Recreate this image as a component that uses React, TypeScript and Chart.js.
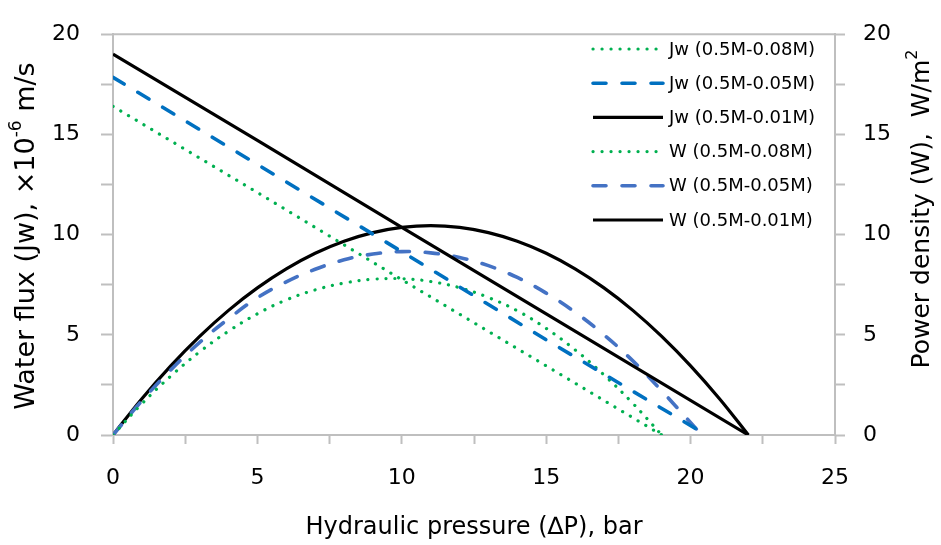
import React, { useEffect, useRef } from 'react';
import { Chart, registerables } from 'chart.js';

Chart.register(...registerables);

const FONT = '"DejaVu Sans", sans-serif';

// ---------- text ----------
const X_TITLE = 'Hydraulic pressure (∆P), bar';
const Y_LEFT_TITLE = ['Water flux (Jw), ×10', '-6', ' m/s'];
const Y_RIGHT_TITLE = ['Power density (W),  W/m', '2'];
const LEGEND_LABELS = [
  'Jw (0.5M-0.08M)',
  'Jw (0.5M-0.05M)',
  'Jw (0.5M-0.01M)',
  'W (0.5M-0.08M)',
  'W (0.5M-0.05M)',
  'W (0.5M-0.01M)',
];

// ---------- data (ΔP in bar, Jw in 1e-6 m/s, W in W/m2) ----------
const jw08P = [0, 5, 10, 15, 19];
const jw08 = [16.4, 12.1, 7.75, 3.45, 0];

const jw05P = [0, 5, 10, 15, 20.2];
const jw05 = [17.85, 13.5, 9.15, 4.75, 0.3];

const jw01P = [0, 5, 10, 15, 22];
const jw01 = [19, 14.7, 10.36, 6.05, 0];

const w08P = [0, 1, 2, 3, 4, 5, 6, 7, 8, 9, 10, 11, 12, 13, 14, 15, 16, 17, 18, 19];
const w08 = [0, 1.56, 2.94, 4.15, 5.18, 6.05, 6.74, 7.24, 7.58, 7.77, 7.8, 7.66, 7.35, 6.86, 6.2, 5.32, 4.25, 3.0, 1.58, 0];

const w05P = [0, 1, 2, 3, 4, 5, 6, 7, 8, 9, 10, 11, 12, 13, 14, 15, 16, 17, 18, 19, 20.2];
const w05 = [0, 1.71, 3.25, 4.62, 5.8, 6.85, 7.64, 8.27, 8.74, 9.03, 9.15, 9.09, 8.86, 8.45, 7.86, 7.08, 6.13, 5.0, 3.7, 2.2, 0.3];

const w01P = [0, 1, 2, 3, 4, 5, 6, 7, 8, 9, 10, 11, 12, 13, 14, 15, 16, 17, 18, 19, 20, 21, 22];
const w01 = [0, 1.81, 3.45, 4.92, 6.22, 7.34, 8.29, 9.07, 9.67, 10.1, 10.36, 10.45, 10.36, 10.1, 9.67, 9.07, 8.29, 7.34, 6.22, 4.92, 3.45, 1.81, 0];

const X_MIN = 0, X_MAX = 25, Y_MIN = 0, Y_MAX = 20, TICK_STEP = 2.5, LABEL_STEP = 5;

const pts = (xs: number[], ys: number[]) => xs.map((x, i) => ({ x, y: ys[i] }));

const GREEN = '#00B050';
const DARK_BLUE = '#0070C0';
const MID_BLUE = '#4472C4';
const AXIS_GRAY = '#BFBFBF';

const dotted = { borderWidth: 3.2, borderDash: [0.1, 8.9], borderCapStyle: 'round' };
const dashed = { borderWidth: 3.6, borderDash: [13, 16], borderCapStyle: 'round' };
const solid = { borderWidth: 3.2, borderDash: [], borderCapStyle: 'butt' };

const overlayPlugin = {
  id: 'overlay',
  afterDraw(chart: any) {
    const { ctx, chartArea } = chart;
    ctx.save();
    // top border of plot area
    ctx.strokeStyle = AXIS_GRAY;
    ctx.lineWidth = 2;
    ctx.beginPath();
    ctx.moveTo(chartArea.left, chartArea.top);
    ctx.lineTo(chartArea.right, chartArea.top);
    ctx.stroke();

    // rotated y titles with superscripts
    const drawRotated = (parts: string[], supIdx: number[], cx: number, cy: number, size: number) => {
      ctx.save();
      ctx.translate(cx, cy);
      ctx.rotate(-Math.PI / 2);
      ctx.fillStyle = '#000';
      ctx.textBaseline = 'middle';
      ctx.textAlign = 'left';
      const normal = `${size}px ${FONT}`;
      const sup = `${Math.round(size * 0.62)}px ${FONT}`;
      let total = 0;
      parts.forEach((p, i) => {
        ctx.font = supIdx.includes(i) ? sup : normal;
        total += ctx.measureText(p).width;
      });
      let x = -total / 2;
      parts.forEach((p, i) => {
        const isSup = supIdx.includes(i);
        ctx.font = isSup ? sup : normal;
        ctx.fillText(p, x, isSup ? -size * 0.38 : 0);
        x += ctx.measureText(p).width;
      });
      ctx.restore();
    };
    drawRotated(Y_LEFT_TITLE, [1], 27, 236, 27);
    drawRotated(Y_RIGHT_TITLE, [1], 922, 209, 25);

    // legend
    const rowY0 = 49;
    const rowStep = 34.2;
    const x0 = 593, x1 = 663, tx = 669;
    chart.data.datasets.forEach((ds: any, i: number) => {
      const y = rowY0 + i * rowStep;
      ctx.save();
      ctx.strokeStyle = ds.borderColor;
      ctx.lineWidth = ds.borderWidth;
      ctx.setLineDash(ds.borderDash || []);
      ctx.lineCap = ds.borderCapStyle || 'butt';
      ctx.beginPath();
      ctx.moveTo(x0, y);
      ctx.lineTo(x1, y);
      ctx.stroke();
      ctx.restore();
      ctx.fillStyle = '#000';
      ctx.font = `18px ${FONT}`;
      ctx.textBaseline = 'middle';
      ctx.textAlign = 'left';
      ctx.fillText(LEGEND_LABELS[i], tx, y + 1);
    });
    ctx.restore();
  },
};

export default function App() {
  const canvasRef = useRef<HTMLCanvasElement | null>(null);

  useEffect(() => {
    const canvas = canvasRef.current;
    if (!canvas) return;

    const tickCb = (v: any) => (Math.abs(v % LABEL_STEP) < 1e-9 ? String(v) : '');

    const chart = new Chart(canvas, {
      type: 'line',
      data: {
        datasets: [
          { label: LEGEND_LABELS[0], data: pts(jw08P, jw08), borderColor: GREEN, yAxisID: 'y', ...dotted },
          { label: LEGEND_LABELS[1], data: pts(jw05P, jw05), borderColor: DARK_BLUE, yAxisID: 'y', ...dashed },
          { label: LEGEND_LABELS[2], data: pts(jw01P, jw01), borderColor: '#000000', yAxisID: 'y', ...solid },
          { label: LEGEND_LABELS[3], data: pts(w08P, w08), borderColor: GREEN, yAxisID: 'y2', tension: 0.4, ...dotted },
          { label: LEGEND_LABELS[4], data: pts(w05P, w05), borderColor: MID_BLUE, yAxisID: 'y2', tension: 0.4, ...dashed },
          { label: LEGEND_LABELS[5], data: pts(w01P, w01), borderColor: '#000000', yAxisID: 'y2', tension: 0.4, ...solid },
        ] as any,
      },
      options: {
        responsive: false,
        animation: false,
        events: [],
        layout: { padding: { top: 25, right: 0, bottom: 0, left: 0 } },
        elements: { point: { radius: 0 }, line: { fill: false } },
        plugins: { legend: { display: false }, tooltip: { enabled: false }, title: { display: false } },
        scales: {
          x: {
            type: 'linear',
            position: 'bottom',
            min: X_MIN,
            max: X_MAX,
            afterFit: (s: any) => { s.height = 110; },
            ticks: { stepSize: TICK_STEP, callback: tickCb, color: '#000', font: { family: FONT, size: 22 }, padding: 21, maxRotation: 0, autoSkip: false },
            grid: { display: true, drawOnChartArea: false, drawTicks: true, tickLength: 9, tickColor: AXIS_GRAY, tickWidth: 2 },
            border: { display: true, color: AXIS_GRAY, width: 2 },
            title: { display: true, text: X_TITLE, color: '#000', font: { family: FONT, size: 24 }, padding: { top: 0, bottom: 3 } },
          },
          y: {
            type: 'linear',
            position: 'left',
            min: Y_MIN,
            max: Y_MAX,
            afterFit: (s: any) => { s.width = 113; },
            ticks: { stepSize: TICK_STEP, callback: tickCb, color: '#000', font: { family: FONT, size: 22 }, padding: 21, autoSkip: false },
            grid: { display: true, drawOnChartArea: false, drawTicks: true, tickLength: 12, tickColor: AXIS_GRAY, tickWidth: 2 },
            border: { display: true, color: AXIS_GRAY, width: 2 },
          },
          y2: {
            type: 'linear',
            position: 'right',
            min: Y_MIN,
            max: Y_MAX,
            afterFit: (s: any) => { s.width = 106; },
            ticks: { stepSize: TICK_STEP, callback: tickCb, color: '#000', font: { family: FONT, size: 22 }, padding: 18, autoSkip: false },
            grid: { display: true, drawOnChartArea: false, drawTicks: true, tickLength: 10, tickColor: AXIS_GRAY, tickWidth: 2 },
            border: { display: true, color: AXIS_GRAY, width: 2 },
          },
        },
      } as any,
      plugins: [overlayPlugin],
    });

    return () => chart.destroy();
  }, []);

  return (
    <div style={{ position: 'fixed', left: 0, top: 0, width: 941, height: 545, background: '#ffffff' }}>
      <canvas ref={canvasRef} width={941} height={545} style={{ display: 'block' }} />
    </div>
  );
}
